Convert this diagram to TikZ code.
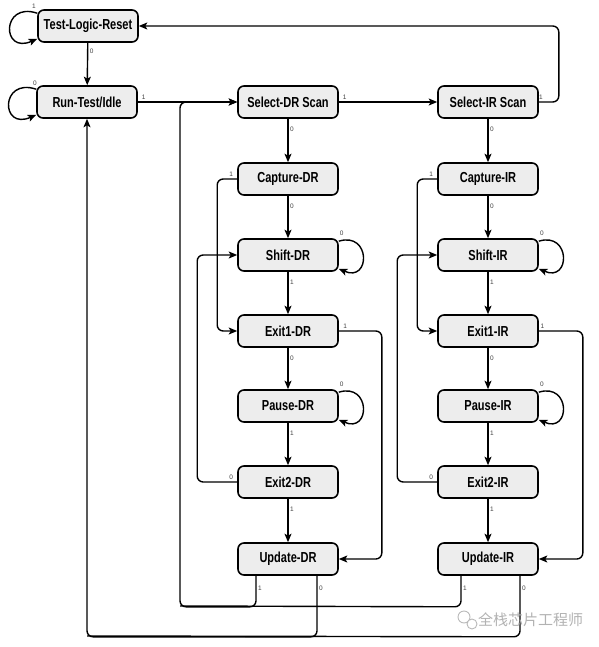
\documentclass[tikz,border=0pt]{standalone}
\usepackage{fontspec}
\setmainfont{Liberation Sans}
\newfontfamily\narrowfont{Liberation Sans}[FakeStretch=0.76]
\newfontfamily\cjkfont{Noto Sans CJK SC}
\usetikzlibrary{arrows.meta}

\begin{document}
\begin{tikzpicture}[x=1pt, y=-1pt,
        stbox/.style={draw, line width=1.6pt, rounded corners=6pt, fill=gray!14,
            minimum width=100pt, minimum height=32pt, inner sep=0pt,
            font=\narrowfont\bfseries\fontsize{14.5}{16}\selectfont},
        conn/.style={line width=1.4pt, rounded corners=6pt,
            -{Stealth[length=8.5pt, width=7pt, inset=2pt]}},
        wire/.style={line width=1.4pt, rounded corners=6pt},
        lbl/.style={font=\fontsize{6.5}{7}\selectfont, text=black!75, inner sep=1.5pt}]
        \useasboundingbox (0,0) rectangle (598,647);

        % Reset and idle
        \node[stbox] (tlr) at (88,26) {Test-Logic-Reset};
        \node[stbox] (rti) at (87,102) {Run-Test/Idle};

        % DR column
        \node[stbox] (seldr) at (288,102) {Select-DR Scan};
        \node[stbox] (capdr) at (288,179) {Capture-DR};
        \node[stbox] (shdr) at (288,255) {Shift-DR};
        \node[stbox] (ex1dr) at (288,331) {Exit1-DR};
        \node[stbox] (padr) at (288,406) {Pause-DR};
        \node[stbox] (ex2dr) at (288,482) {Exit2-DR};
        \node[stbox] (updr) at (288,559) {Update-DR};

        % IR column
        \node[stbox] (selir) at (488,102) {Select-IR Scan};
        \node[stbox] (capir) at (488,179) {Capture-IR};
        \node[stbox] (shir) at (488,255) {Shift-IR};
        \node[stbox] (ex1ir) at (488,331) {Exit1-IR};
        \node[stbox] (pair) at (488,406) {Pause-IR};
        \node[stbox] (ex2ir) at (488,482) {Exit2-IR};
        \node[stbox] (upir) at (488,559) {Update-IR};

        \coordinate (back) at (180,102);

        % Self loops
        \draw[conn] ([yshift=-4pt]tlr.north west) .. controls +(-36,-12) and +(-36,16) .. ([yshift=4pt]tlr.south west);
        \node[lbl] at (34,6) {1};
        \draw[conn] ([yshift=-4pt]rti.north west) .. controls +(-36,-12) and +(-36,16) .. ([yshift=4pt]rti.south west);
        \node[lbl] at (35,83) {0};
        \foreach \s in {shdr, padr, shir, pair} {
            \draw[conn] ([yshift=-3pt]\s.north east) .. controls +(32,-10) and +(32,14) .. ([yshift=3pt]\s.south east);
            \node[lbl] at ([xshift=3pt,yshift=5pt]\s.north east) {0};
        }

        % Top row
        \draw[conn] (tlr) -- node[lbl, pos=0.2, right] {0} (rti);
        \draw[conn] (rti) -- node[lbl, pos=0.02, above right] {1} (seldr);
        \draw[conn] (seldr) -- node[lbl, pos=0.02, above right] {1} (selir);
        \draw[conn] (selir.east) -- node[lbl, pos=0.1, above] {1} ++(20,0) |- (tlr.east);

        % Straight down the columns
        \foreach \a/\b/\v in {seldr/capdr/0, capdr/shdr/0, shdr/ex1dr/1, ex1dr/padr/0, padr/ex2dr/1, ex2dr/updr/1,
                selir/capir/0, capir/shir/0, shir/ex1ir/1, ex1ir/pair/0, pair/ex2ir/1, ex2ir/upir/1} {
            \draw[conn] (\a) -- node[lbl, pos=0.25, right] {\v} (\b);
        }

        % Side paths, DR
        \draw[conn] (capdr.west) -- node[lbl, pos=0.3, above] {1} ++(-20,0) |- (ex1dr.west);
        \draw[conn] (ex2dr.west) -- node[lbl, pos=0.15, above] {0} ++(-40,0) |- (shdr.west);
        \draw[conn] (ex1dr.east) -- node[lbl, pos=0.15, above] {1} ++(43,0) |- (updr.east);

        % Side paths, IR
        \draw[conn] (capir.west) -- node[lbl, pos=0.3, above] {1} ++(-20,0) |- (ex1ir.west);
        \draw[conn] (ex2ir.west) -- node[lbl, pos=0.15, above] {0} ++(-40,0) |- (shir.west);
        \draw[conn] (ex1ir.east) -- node[lbl, pos=0.08, above] {1} ++(44,0) |- (upir.east);

        % Update back to Select-DR Scan
        \draw[conn] ([xshift=-32pt]updr.south) -- node[lbl, pos=0.4, right] {1} ++(0,31) -| (back) -- (seldr.west);
        \draw[wire] ([xshift=-27pt]upir.south) -- node[lbl, pos=0.4, right] {1} ++(0,31) -- (back |- 0,606);

        % Update back to Run-Test/Idle
        \draw[conn] ([xshift=29pt]updr.south) -- node[lbl, pos=0.2, right] {0} ++(0,61) -| (rti.south);
        \draw[wire] ([xshift=32pt]upir.south) -- node[lbl, pos=0.2, right] {0} ++(0,61) -- (rti.south |- 0,636);

        % Watermark
        \draw[gray!55, line width=0.9pt] (464,617) circle[radius=6pt];
        \draw[gray!55, line width=0.9pt, fill=white] (472,624) circle[radius=5pt];
        \node[text=gray!60, font=\cjkfont\fontsize{15}{17}\selectfont, anchor=west, inner sep=0pt] (wm) at (478,620) {全栈芯片工程师};
\end{tikzpicture}
\end{document}
